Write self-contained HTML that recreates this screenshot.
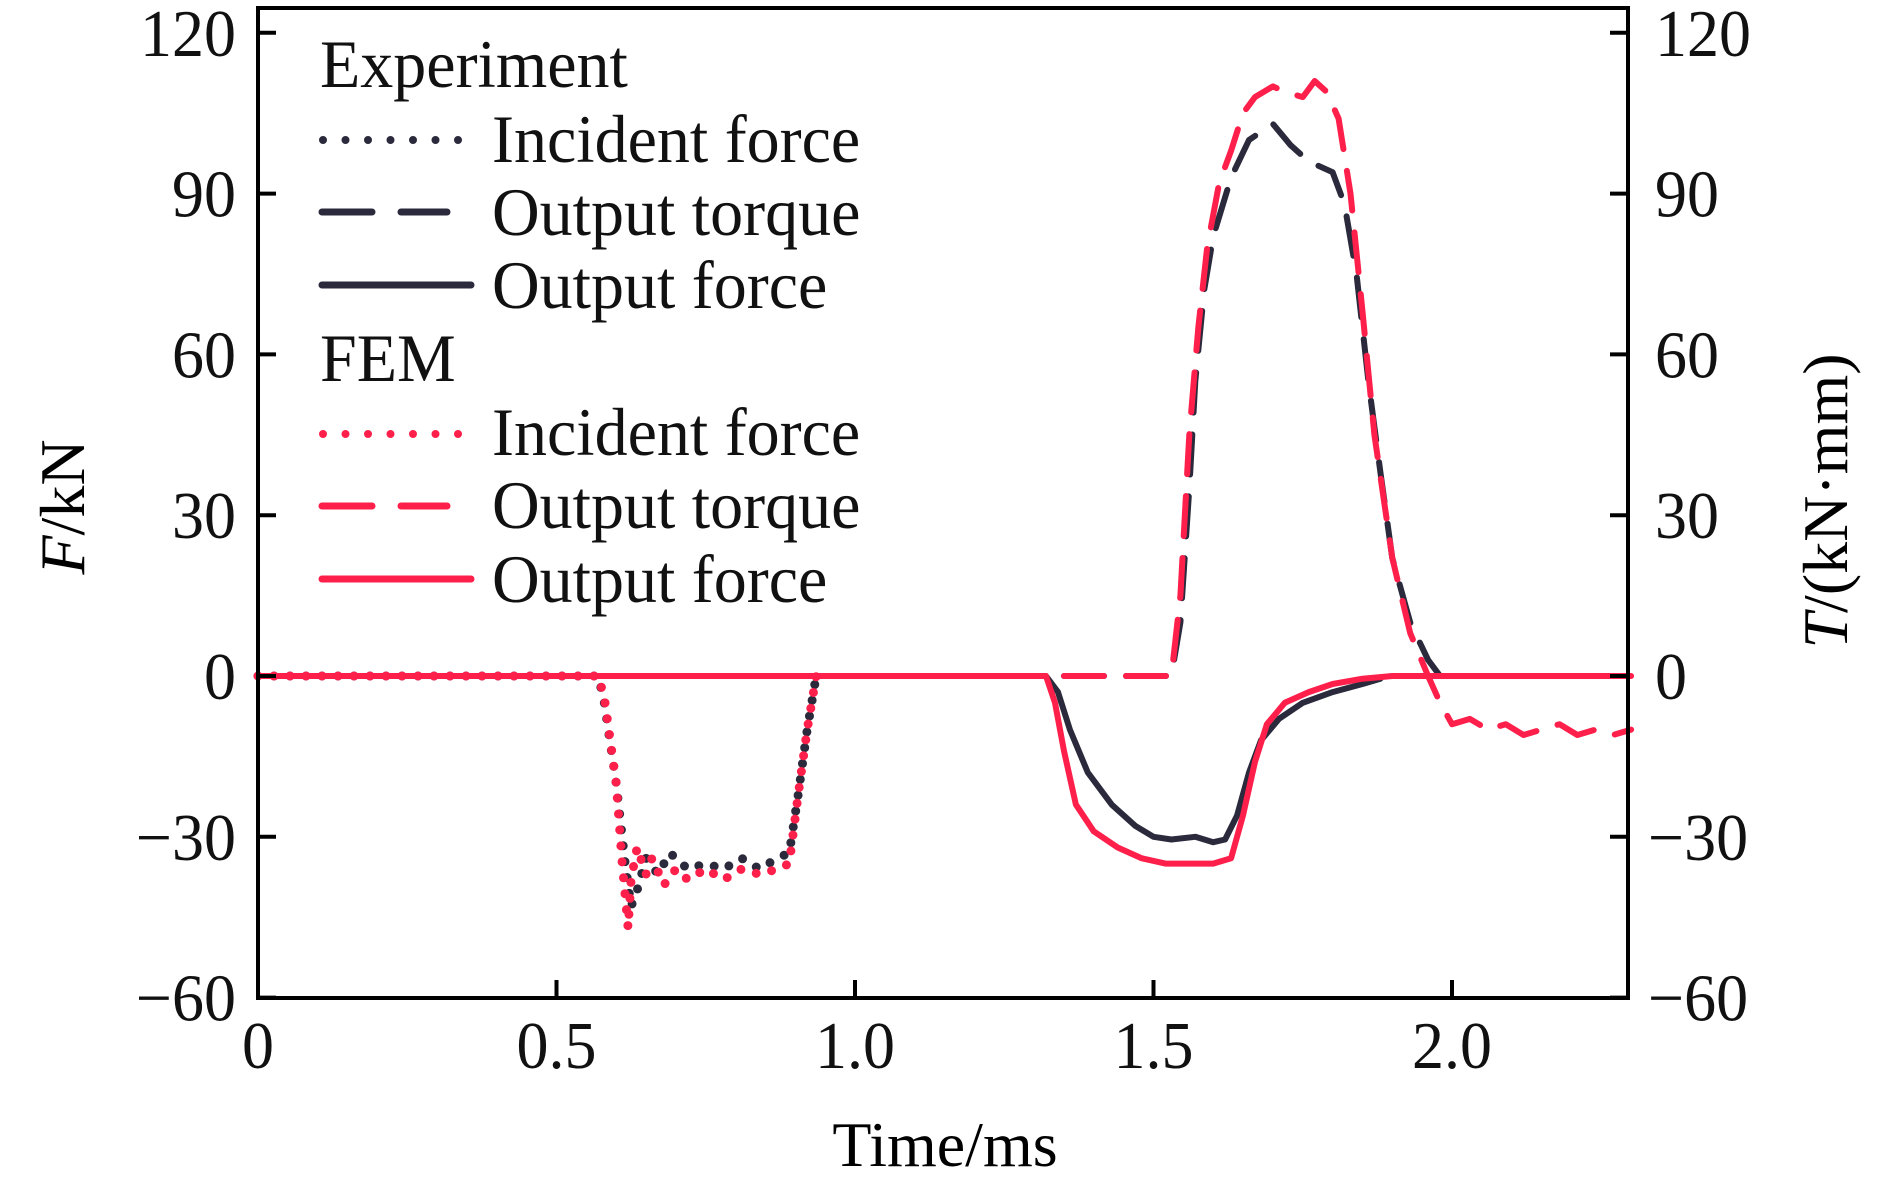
<!DOCTYPE html>
<html><head><meta charset="utf-8"><style>
html,body{margin:0;padding:0;background:#fff;}
svg{display:block;font-family:"Liberation Serif",serif;}
</style></head><body>
<svg id="chart" width="1890" height="1185" viewBox="0 0 1890 1185" xmlns="http://www.w3.org/2000/svg">
<g id="series"></g>
<rect x="258" y="8" width="1370" height="990" fill="none" stroke="#000" stroke-width="4"/>
<g id="ticks"></g>
<g fill="#111" font-size="66">
  <g transform="translate(320 87) scale(1 1.03)"><text>Experiment</text></g>
  <line x1="323" y1="140" x2="460" y2="140" stroke="#2a2a3c" stroke-width="8" stroke-linecap="round" stroke-dasharray="0 22.5"/>
  <g transform="translate(492 162) scale(1 1.03)"><text>Incident force</text></g>
  <line x1="322" y1="212" x2="447" y2="212" stroke="#2a2a3c" stroke-width="7" stroke-linecap="round" stroke-dasharray="50 29"/>
  <g transform="translate(492 235) scale(1 1.03)"><text>Output torque</text></g>
  <line x1="322" y1="285" x2="471" y2="285" stroke="#2a2a3c" stroke-width="7" stroke-linecap="round"/>
  <g transform="translate(492 308) scale(1 1.03)"><text>Output force</text></g>
  <g transform="translate(320 381) scale(1 1.03)"><text>FEM</text></g>
  <line x1="323" y1="434" x2="460" y2="434" stroke="#ff1f4b" stroke-width="8" stroke-linecap="round" stroke-dasharray="0 22.5"/>
  <g transform="translate(492 455) scale(1 1.03)"><text>Incident force</text></g>
  <line x1="322" y1="506" x2="447" y2="506" stroke="#ff1f4b" stroke-width="7" stroke-linecap="round" stroke-dasharray="50 29"/>
  <g transform="translate(492 528) scale(1 1.03)"><text>Output torque</text></g>
  <line x1="322" y1="579" x2="471" y2="579" stroke="#ff1f4b" stroke-width="7" stroke-linecap="round"/>
  <g transform="translate(492 602) scale(1 1.03)"><text>Output force</text></g>
</g>
<g transform="translate(84 507) rotate(-90)"><text text-anchor="middle" font-size="64"><tspan font-style="italic">F</tspan>/kN</text></g>
<g transform="translate(1847 501) rotate(-90)"><text text-anchor="middle" font-size="64"><tspan font-style="italic">T</tspan>/(kN·mm)</text></g>
<g transform="translate(945 1166)"><text text-anchor="middle" font-size="64">Time/ms</text></g>
</svg>
<script>
// axis ranges & ticks
const xTicks = [0, 0.5, 1.0, 1.5, 2.0];
const xTickLabels = ["0", "0.5", "1.0", "1.5", "2.0"];
const yTicks = [-60, -30, 0, 30, 60, 90, 120];
const yTickLabels = ["\u221260", "\u221230", "0", "30", "60", "90", "120"];

// Experiment incident force (kN)
const expIncT = [0, 0.57, 0.58, 0.60, 0.615, 0.625, 0.635, 0.65, 0.67, 0.69, 0.72, 0.75, 0.78, 0.81, 0.84, 0.87, 0.89, 0.905, 0.92, 0.935];
const expIncV = [0, 0, -5, -20, -35, -43, -40, -34, -37, -33, -36, -35, -36, -34, -36, -34, -33, -22, -10, 0];
// FEM incident force (kN)
const femIncT = [0, 0.57, 0.58, 0.60, 0.61, 0.62, 0.625, 0.635, 0.65, 0.66, 0.68, 0.70, 0.72, 0.75, 0.78, 0.81, 0.84, 0.87, 0.89, 0.905, 0.92, 0.935];
const femIncV = [0, 0, -4, -20, -35, -47, -38, -32, -37, -34, -39, -36, -38, -36, -38, -36, -37, -36, -35, -22, -10, 0];
// Experiment output torque (kN·mm)
const expTorT = [0, 1.53, 1.545, 1.56, 1.57, 1.585, 1.60, 1.63, 1.66, 1.70, 1.73, 1.76, 1.80, 1.82, 1.84, 1.86, 1.88, 1.90, 1.93, 1.96, 1.98];
const expTorV = [0, 0, 10, 35, 55, 72, 82, 93, 100, 103, 99, 96, 94, 88, 75, 55, 38, 22, 10, 3, 0];
// FEM output torque (kN·mm)
const femTorT = [0, 1.53, 1.545, 1.56, 1.575, 1.59, 1.61, 1.63, 1.65, 1.67, 1.70, 1.72, 1.75, 1.77, 1.79, 1.81, 1.83, 1.85, 1.87, 1.90, 1.93, 1.96, 1.98, 2.00, 2.03, 2.06, 2.09, 2.12, 2.15, 2.18, 2.21, 2.24, 2.27, 2.30];
const femTorV = [0, 0, 15, 45, 65, 80, 92, 98, 105, 108, 110, 109, 108, 111, 109, 104, 90, 68, 45, 22, 8, 0, -5, -9, -8, -10, -9, -11, -10, -9, -11, -10, -11, -10];
// Experiment output force (kN)
const expForT = [0, 1.32, 1.34, 1.36, 1.39, 1.43, 1.47, 1.50, 1.53, 1.57, 1.60, 1.62, 1.64, 1.66, 1.68, 1.71, 1.75, 1.80, 1.85, 1.88];
const expForV = [0, 0, -3, -10, -18, -24, -28, -30, -30.5, -30, -31, -30.5, -26, -18, -12, -8, -5, -3, -1.5, -0.5];
// FEM output force (kN)
const femForT = [0, 1.32, 1.335, 1.35, 1.37, 1.40, 1.44, 1.48, 1.52, 1.56, 1.60, 1.63, 1.65, 1.67, 1.69, 1.72, 1.76, 1.80, 1.85, 1.90, 2.30];
const femForV = [0, 0, -5, -14, -24, -29, -32, -34, -35, -35, -35, -34, -26, -16, -9, -5, -3, -1.5, -0.5, 0, 0];

const X0 = 258, PXMS = 597, Y0 = 676, PXU = 5.36;
const xs = t => X0 + t * PXMS;
const ys = v => Y0 - v * PXU;
const NS = "http://www.w3.org/2000/svg";
const series = document.getElementById('series');
const ticks = document.getElementById('ticks');

function drawLine(T, V, color, dash, w, name) {
  const p = document.createElementNS(NS, 'polyline');
  p.setAttribute('points', T.map((t, i) => xs(t).toFixed(1) + ',' + ys(V[i]).toFixed(1)).join(' '));
  p.setAttribute('fill', 'none');
  p.setAttribute('stroke', color);
  p.setAttribute('stroke-width', w);
  p.setAttribute('stroke-linecap', 'round');
  p.setAttribute('stroke-linejoin', 'round');
  if (dash) p.setAttribute('stroke-dasharray', dash);
  
  
  series.appendChild(p);
}
const DK = '#2a2a3c', RD = '#ff1f4b';
drawLine(expForT, expForV, DK, null, 6, 'exp-output-force-line');
drawLine(expIncT, expIncV, DK, '0 16', 9, 'exp-incident-force-line');
drawLine(expTorT, expTorV, DK, '40 22', 6, 'exp-output-torque-line');
drawLine(femTorT, femTorV, RD, '40 22', 6, 'fem-output-torque-line');
drawLine(femForT, femForV, RD, null, 6, 'fem-output-force-line');
drawLine(femIncT, femIncV, RD, '0 16', 9, 'fem-incident-force-line');

function mk(tag, attrs) {
  const e = document.createElementNS(NS, tag);
  for (const k in attrs) e.setAttribute(k, attrs[k]);
  return e;
}
xTicks.forEach((t, i) => {
  const l = mk('line', {x1: xs(t), x2: xs(t), y1: 998, y2: 980, stroke: '#000', 'stroke-width': 4});
  
  
  ticks.appendChild(l);
  const g = mk('g', {transform: `translate(${xs(t)} 1068) scale(1 1.05)`});
  
  
  const tx = mk('text', {'text-anchor': 'middle', 'font-size': 64, fill: '#111'});
  tx.textContent = xTickLabels[i];
  g.appendChild(tx);
  ticks.appendChild(g);
});
yTicks.forEach((v, i) => {
  const y = ys(v);
  const l1 = mk('line', {x1: 258, x2: 276, y1: y, y2: y, stroke: '#000', 'stroke-width': 4});
  
  
  ticks.appendChild(l1);
  const l2 = mk('line', {x1: 1610, x2: 1628, y1: y, y2: y, stroke: '#000', 'stroke-width': 4});
  
  
  ticks.appendChild(l2);
  const g1 = mk('g', {transform: `translate(236 ${y + 23}) scale(1 1.05)`});
  
  
  const t1 = mk('text', {'text-anchor': 'end', 'font-size': 64, fill: '#111'});
  t1.textContent = yTickLabels[i];
  g1.appendChild(t1);
  ticks.appendChild(g1);
  const g2 = mk('g', {transform: `translate(${v < 0 ? 1648 : 1655} ${y + 23}) scale(1 1.05)`});
  
  
  const t2 = mk('text', {'text-anchor': 'start', 'font-size': 64, fill: '#111'});
  t2.textContent = yTickLabels[i];
  g2.appendChild(t2);
  ticks.appendChild(g2);
});
</script>
</body></html>
